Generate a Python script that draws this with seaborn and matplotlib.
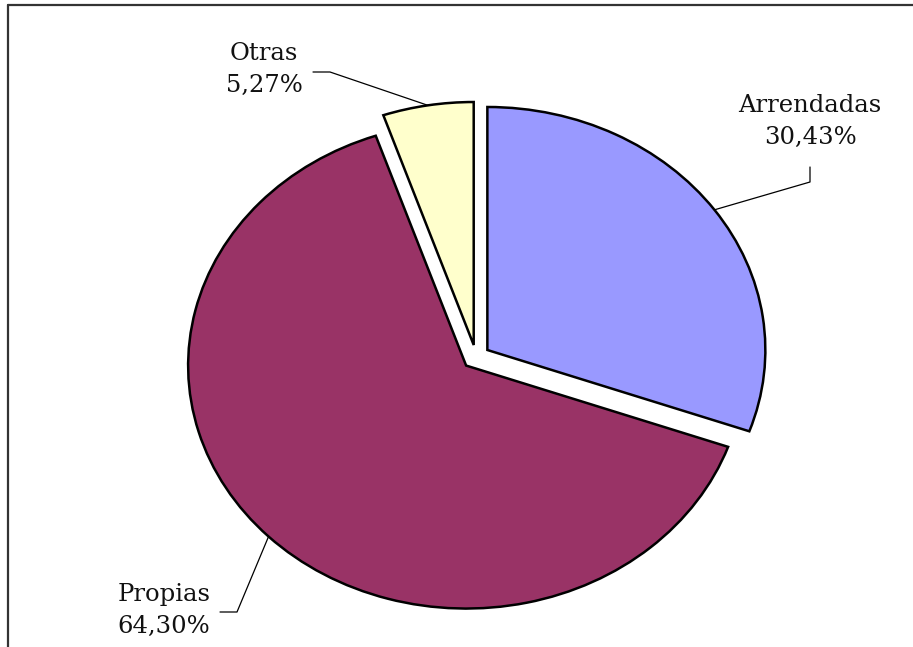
import matplotlib
matplotlib.use("Agg")
import matplotlib.pyplot as plt
import seaborn as sns
from matplotlib.lines import Line2D
import numpy as np

# data
labels = ["Arrendadas", "Propias", "Otras"]
values = [30.43, 64.30, 5.27]
colors = ["#9999FF", "#993366", "#FFFFCC"]
explode = [0.05, 0.05, 0.05]

sns.set_style("white")
plt.rcParams['font.family'] = ['DejaVu Serif']

W, H = 913, 647
fig = plt.figure(figsize=(W / 100, H / 100), dpi=100)
ax = fig.add_axes([0, 0, 1, 1])

# pie center / radii in pixels (ellipse, as in the original)
cx, cy, rx, ry = 476, 357, 278, 243


def px(x, y):
    return (x - cx) / rx, (cy - y) / ry


wedges, _ = ax.pie(values, colors=colors, explode=explode, startangle=90,
                   counterclock=False,
                   wedgeprops=dict(edgecolor="black", linewidth=1.8))
ax.set_aspect("auto")
ax.set_xlim(-cx / rx, (W - cx) / rx)
ax.set_ylim(-(H - cy) / ry, cy / ry)
ax.axis("off")

# label positions (text centre) and leader elbows, in pixels
text_pos = {"Arrendadas": (810, 121), "Propias": (164, 610), "Otras": (264, 69)}
elbows = {"Arrendadas": [(810, 182), (810, 167)],
          "Propias": [(237, 612), (220, 612)],
          "Otras": [(330, 72), (313, 72)]}

for w, lab, v in zip(wedges, labels, values):
    mid = np.deg2rad((w.theta1 + w.theta2) / 2)
    ox, oy = w.center
    anchor = (ox + np.cos(mid), oy + np.sin(mid))
    pts = [anchor] + [px(*p) for p in elbows[lab]]
    ax.plot([p[0] for p in pts], [p[1] for p in pts], color="black",
            lw=0.9, clip_on=False)
    tx, ty = px(*text_pos[lab])
    ax.text(tx, ty, f"{lab}\n{v:.2f}%".replace(".", ","), ha="center",
            va="center", fontsize=17.5, linespacing=1.5, color="#111111")

# frame (top and left only, as cropped in the original)
fig.add_artist(Line2D([8 / W, 1], [1 - 5 / H, 1 - 5 / H], color="#333333", lw=1.6))
fig.add_artist(Line2D([8 / W, 8 / W], [0, 1 - 5 / H], color="#333333", lw=1.6))

fig.savefig("out.png", dpi=100)
